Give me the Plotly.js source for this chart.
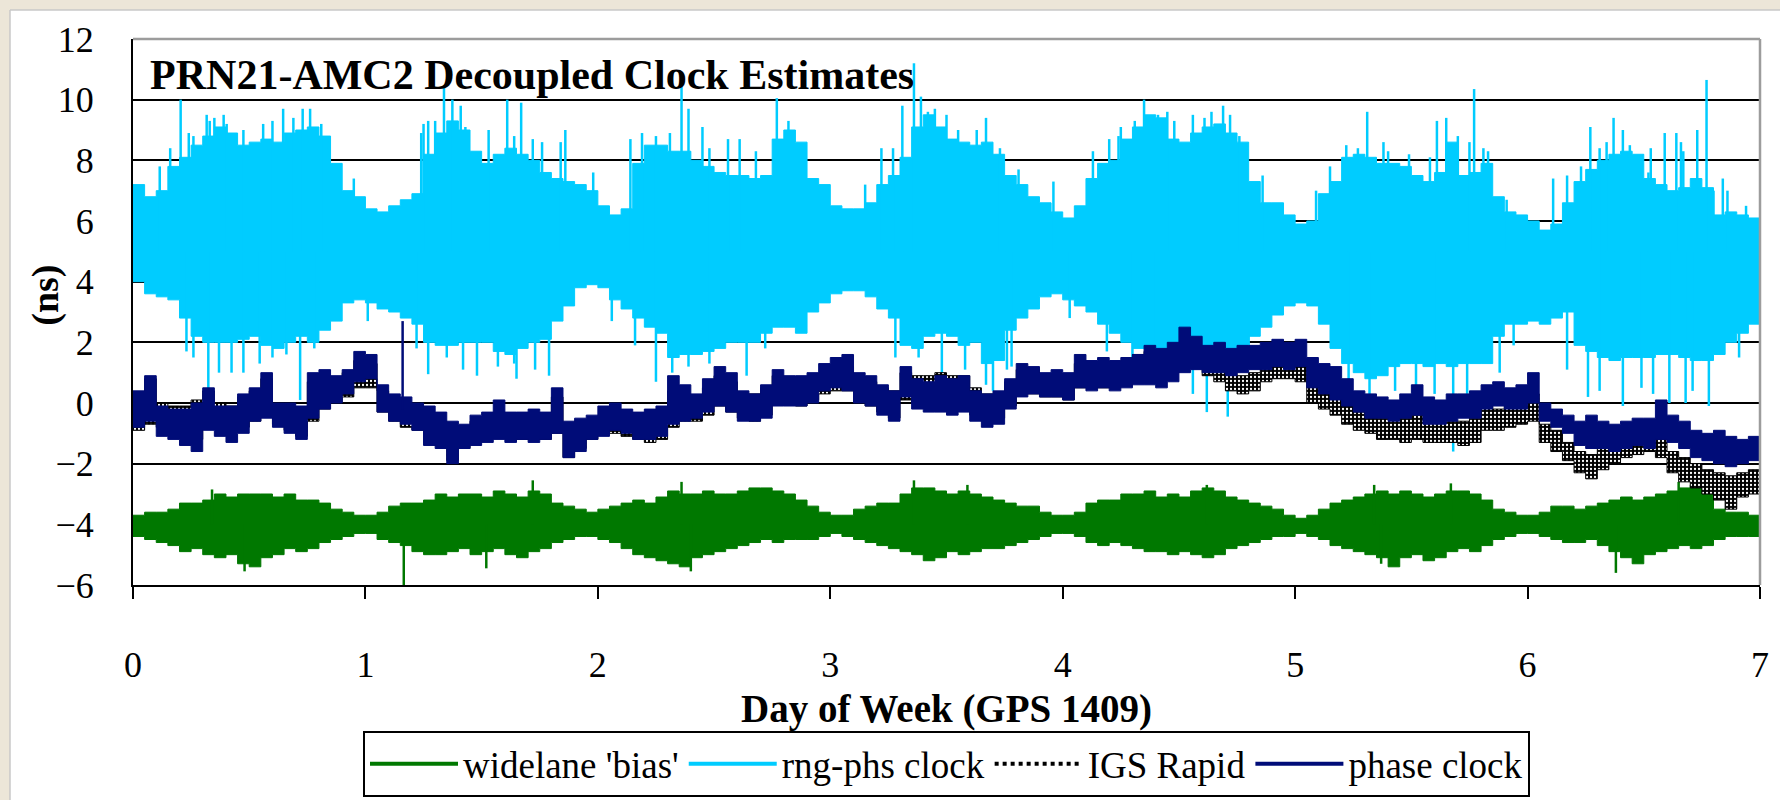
<!DOCTYPE html>
<html>
<head>
<meta charset="utf-8">
<script src="https://cdn.plot.ly/plotly-3.0.1.min.js"></script>
<style>
html,body{margin:0;padding:0;background:#ffffff;}
#chart{width:1780px;height:800px;}
</style>
</head>
<body>
<div id="chart"></div>
<script>
// ---- sample times (day of week), 0.05-day steps ----
const days = [
0,0.05,0.1,0.15,0.2,0.25,0.3,0.35,0.4,0.45,0.5,0.55,0.6,0.65,0.7,0.75,0.8,0.85,0.9,0.95,
1,1.05,1.1,1.15,1.2,1.25,1.3,1.35,1.4,1.45,1.5,1.55,1.6,1.65,1.7,1.75,1.8,1.85,1.9,1.95,
2,2.05,2.1,2.15,2.2,2.25,2.3,2.35,2.4,2.45,2.5,2.55,2.6,2.65,2.7,2.75,2.8,2.85,2.9,2.95,
3,3.05,3.1,3.15,3.2,3.25,3.3,3.35,3.4,3.45,3.5,3.55,3.6,3.65,3.7,3.75,3.8,3.85,3.9,3.95,
4,4.05,4.1,4.15,4.2,4.25,4.3,4.35,4.4,4.45,4.5,4.55,4.6,4.65,4.7,4.75,4.8,4.85,4.9,4.95,
5,5.05,5.1,5.15,5.2,5.25,5.3,5.35,5.4,5.45,5.5,5.55,5.6,5.65,5.7,5.75,5.8,5.85,5.9,5.95,
6,6.05,6.1,6.15,6.2,6.25,6.3,6.35,6.4,6.45,6.5,6.55,6.6,6.65,6.7,6.75,6.8,6.85,6.9,6.95,
7];

// ---- widelane 'bias' (ns): upper / lower envelope of the dense trace ----
const widelaneHi = [
-3.7,-3.6,-3.6,-3.5,-3.3,-3.3,-3.2,-3.0,-3.1,-3.0,-3.0,-3.0,-3.1,-3.0,-3.2,-3.2,-3.3,-3.5,-3.6,-3.7,
-3.7,-3.6,-3.4,-3.3,-3.3,-3.2,-3.0,-3.1,-3.0,-3.0,-3.1,-2.9,-3.0,-3.1,-2.9,-3.0,-3.3,-3.4,-3.5,-3.6,
-3.5,-3.4,-3.3,-3.2,-3.3,-3.1,-2.9,-3.0,-3.0,-2.9,-3.0,-3.0,-2.9,-2.8,-2.8,-2.9,-3.0,-3.2,-3.4,-3.6,
-3.7,-3.7,-3.5,-3.4,-3.3,-3.3,-3.0,-2.8,-2.8,-2.9,-3.0,-2.9,-3.0,-3.1,-3.2,-3.3,-3.4,-3.4,-3.6,-3.7,
-3.7,-3.6,-3.3,-3.2,-3.2,-3.0,-3.0,-2.9,-3.1,-3.0,-3.1,-2.9,-2.8,-2.9,-3.1,-3.2,-3.3,-3.4,-3.5,-3.7,
-3.8,-3.7,-3.5,-3.3,-3.2,-3.1,-3.0,-2.9,-3.0,-2.9,-3.0,-3.1,-3.0,-2.9,-2.9,-3.0,-3.2,-3.5,-3.6,-3.7,
-3.7,-3.6,-3.4,-3.4,-3.5,-3.4,-3.3,-3.2,-3.1,-3.2,-3.1,-3.0,-2.9,-2.8,-2.7,-2.8,-3.5,-3.6,-3.6,-3.7,
-3.6];
const widelaneLo = [
-4.4,-4.5,-4.6,-4.7,-4.9,-4.8,-5.0,-5.1,-5.0,-5.3,-5.4,-5.1,-5.0,-4.8,-4.9,-4.8,-4.6,-4.5,-4.4,-4.3,
-4.3,-4.5,-4.6,-4.7,-4.9,-5.0,-5.0,-4.9,-4.8,-5.0,-4.9,-4.8,-5.0,-5.1,-4.9,-4.8,-4.6,-4.5,-4.4,-4.4,
-4.5,-4.6,-4.8,-5.0,-5.1,-5.2,-5.3,-5.4,-5.1,-5.0,-4.9,-4.8,-4.7,-4.6,-4.5,-4.6,-4.5,-4.5,-4.5,-4.4,
-4.3,-4.4,-4.5,-4.6,-4.7,-4.8,-4.9,-5.0,-5.2,-5.1,-4.9,-5.0,-4.9,-4.8,-4.8,-4.7,-4.6,-4.5,-4.4,-4.3,
-4.3,-4.4,-4.6,-4.7,-4.6,-4.7,-4.8,-4.9,-4.9,-5.0,-4.9,-5.0,-5.1,-5.0,-4.8,-4.7,-4.6,-4.5,-4.4,-4.4,
-4.3,-4.4,-4.5,-4.7,-4.8,-4.9,-5.0,-5.1,-5.4,-5.1,-5.0,-5.2,-5.1,-4.9,-4.8,-4.9,-4.7,-4.5,-4.4,-4.3,
-4.3,-4.4,-4.5,-4.6,-4.6,-4.5,-4.7,-4.9,-5.1,-5.3,-5.0,-4.9,-4.8,-4.7,-4.8,-4.7,-4.5,-4.4,-4.4,-4.4,
-4.3];
const widelaneSpikeDays = [0.34,1.72,2.36,3.36,3.59,4.62,5.34,5.67,6.65,0.48,1.165,1.52,2.40,5.37,6.38];
const widelaneSpikeVals = [-2.85,-2.55,-2.6,-2.55,-2.7,-2.7,-2.7,-2.65,-2.6,-5.55,-6.0,-5.45,-5.55,-5.3,-5.6];
const widelaneSpikeBase = -4.0;

// ---- rng-phs clock (ns) ----
const rngPhsHi = [
7.2,6.8,7.0,7.8,8.1,8.5,8.8,9.1,8.9,8.5,8.6,8.7,8.6,8.9,9.0,9.1,8.8,7.9,7.0,6.8,
6.4,6.3,6.5,6.7,6.9,8.2,8.9,9.3,9.0,8.3,7.9,8.2,8.4,8.2,8.0,7.6,7.4,7.3,7.2,7.0,
6.5,6.2,6.4,7.9,8.5,8.5,8.3,8.3,8.0,7.8,7.6,7.5,7.5,7.4,7.5,8.7,9.0,8.6,7.4,7.2,
6.5,6.4,6.4,6.6,7.2,7.5,8.1,9.1,9.5,9.1,8.7,8.6,8.5,8.6,8.2,7.5,7.2,6.8,6.6,6.3,
6.1,6.5,7.4,7.9,8.0,8.7,9.1,9.5,9.4,8.7,8.6,8.9,9.1,9.2,8.9,8.6,7.3,6.6,6.6,6.2,
5.9,6.0,6.9,7.3,8.1,8.2,8.1,7.9,7.9,7.8,7.5,7.3,7.6,8.6,7.5,7.6,7.9,6.8,6.3,6.2,
6.0,5.7,5.9,6.6,7.3,7.7,8.0,8.2,8.3,8.2,7.4,7.2,7.0,7.1,7.4,7.1,6.2,6.3,6.2,6.1,
5.9];
const rngPhsLo = [
4.0,3.6,3.5,3.4,2.8,2.2,2.0,2.0,2.0,2.1,2.2,1.9,1.8,2.0,2.2,2.0,2.4,2.7,3.3,3.4,
3.3,3.1,3.0,2.8,2.6,2.0,1.9,1.9,2.0,2.0,2.0,1.7,1.6,1.8,2.0,2.1,2.7,3.2,3.8,3.9,
3.8,3.4,3.1,2.8,2.5,2.3,1.5,1.6,1.6,1.7,1.8,2.0,2.0,2.0,2.3,2.5,2.5,2.3,3.0,3.3,
3.6,3.7,3.7,3.5,3.1,2.8,1.9,1.8,2.2,2.3,2.2,1.9,2.0,1.3,1.4,2.4,2.8,3.1,3.5,3.6,
3.4,3.2,3.0,2.6,2.3,2.0,1.8,1.8,1.6,1.5,1.4,1.2,1.2,1.4,1.6,1.9,2.2,2.5,2.9,3.2,
3.3,3.2,2.6,1.8,1.3,1.0,0.8,0.9,1.2,1.3,1.3,1.2,1.3,1.2,1.3,1.3,1.3,2.2,2.6,2.6,
2.7,2.6,2.8,3.0,1.9,1.7,1.5,1.4,1.5,1.5,1.5,1.6,1.6,1.5,1.4,1.4,1.6,2.0,2.3,2.6,
2.8];
// tall isolated spikes (up, then down)
const rngPhsSpikeDays = [
0.205,0.317,0.33,0.403,0.646,0.762,1.25,1.30,1.338,1.374,1.43,1.61,1.67,1.84,1.86,2.14,2.36,2.39,2.45,2.56,
2.77,3.22,3.31,3.36,3.39,3.45,3.63,3.67,4.24,4.35,4.45,4.56,4.61,4.69,4.72,5.31,5.38,5.61,5.70,5.77,
5.83,6.27,6.37,6.41,6.53,6.59,6.64,6.67,6.73,6.77,6.84,
0.324,0.37,0.424,0.475,0.719,1.27,1.48,1.57,1.65,1.79,2.25,2.64,3.48,3.58,3.70,3.78,4.30,4.62,4.71,5.52,
5.68,5.88,6.26,6.31,6.41,6.61,6.68,6.78];
const rngPhsSpikeVals = [
10.0,9.5,9.3,9.2,9.7,9.7,9.2,9.3,10.45,10.0,9.1,10.0,9.9,8.6,9.0,8.7,10.6,9.7,9.1,8.7,
10.05,8.4,9.8,11.2,10.1,9.7,9.0,9.4,8.8,10.0,9.6,9.5,9.4,9.8,9.5,9.6,8.6,9.3,8.8,10.35,
8.3,9.1,9.4,9.0,8.4,8.9,8.9,8.3,9.0,10.65,7.4,
0.0,1.0,1.0,1.0,0.1,0.95,0.9,1.2,0.8,0.9,0.7,0.9,0.9,1.1,0.4,1.2,1.0,-0.3,-0.45,0.3,
-1.6,1.0,0.2,0.4,-0.1,0.0,0.0,-0.1];
// shorter spikes along the band edges (up, then down)
const rngPhsEdgeDays = [
0.115,0.16,0.24,0.26,0.35,0.39,0.475,0.56,0.60,0.69,0.73,0.81,0.83,0.95,1.24,1.27,1.41,1.53,1.64,1.72,
1.76,1.98,2.19,2.25,2.31,2.48,2.61,2.68,2.82,2.89,3.15,3.27,3.42,3.50,3.55,3.73,3.81,3.96,4.13,4.20,
4.25,4.31,4.41,4.48,4.64,4.76,4.86,5.09,5.15,5.22,5.27,5.40,5.49,5.58,5.65,5.75,5.81,5.91,6.11,6.17,
6.23,6.31,6.34,6.44,6.52,6.66,6.80,6.86,6.94,
0.23,0.26,0.545,0.60,0.66,0.78,0.89,1.01,1.22,1.35,1.42,1.64,1.73,2.06,2.16,2.32,2.39,2.48,2.72,3.28,
3.38,3.67,3.76,4.03,4.19,4.40,4.48,4.56,4.80,5.23,5.32,5.43,5.60,5.74,5.94,6.17,6.49,6.54,6.71,6.91];
const rngPhsEdgeVals = [
7.8,8.4,8.9,8.8,9.4,9.5,9.0,9.2,9.3,9.4,9.7,9.2,8.4,7.4,8.9,9.3,9.8,9.0,8.8,8.7,
8.6,7.6,8.9,8.8,8.9,8.4,8.7,8.3,9.3,7.9,7.2,8.4,9.6,9.5,9.0,8.4,7.7,7.3,8.3,8.7,
9.1,9.3,9.5,9.3,9.6,8.8,7.5,7.0,7.8,8.5,8.4,8.3,8.2,8.1,9.4,8.6,8.4,6.7,7.4,7.5,
7.8,8.4,8.6,8.5,7.6,8.6,7.0,7.0,6.5,
1.7,1.5,1.3,1.5,1.6,1.8,2.8,2.7,1.8,1.5,1.1,1.3,1.1,2.7,1.9,1.0,1.2,1.3,1.8,1.5,
1.5,0.6,1.1,2.8,1.7,0.6,0.9,0.3,1.5,0.3,0.0,0.4,0.3,0.3,1.9,1.1,0.5,0.3,0.4,1.5];
const rngPhsSpikeBase = 5.0;

// ---- IGS Rapid (ns) ----
const igsHi = [
0.3,0.8,0.0,-0.1,-0.1,0.1,0.4,0.0,-0.1,0.2,0.4,0.8,0.0,-0.1,-0.2,0.7,0.9,0.8,1.0,1.4,
1.3,0.4,0.1,0.0,-0.2,-0.5,-0.6,-0.8,-0.8,-0.6,-0.5,-0.3,-0.5,-0.5,-0.4,-0.5,0.2,-0.7,-0.6,-0.6,
-0.4,-0.3,-0.4,-0.5,-0.5,-0.3,0.4,0.3,0.1,0.5,0.9,0.7,0.3,0.3,0.5,0.9,0.8,0.7,0.8,1.0,
1.2,1.2,0.8,0.7,0.5,0.4,1.0,0.9,0.9,1.0,0.9,0.9,0.5,0.3,0.3,0.7,1.1,1.1,0.9,0.9,
0.9,1.3,1.3,1.3,1.3,1.4,1.6,1.7,1.6,1.8,2.0,1.9,1.5,1.4,1.0,0.9,1.0,1.3,1.4,1.4,
1.3,0.7,0.5,0.3,-0.1,-0.3,-0.4,-0.5,-0.5,-0.5,-0.4,-0.6,-0.6,-0.6,-0.6,-0.5,-0.1,-0.2,0.0,0.1,
0.3,-0.7,-0.9,-1.3,-1.6,-1.7,-1.4,-1.2,-1.1,-1.0,-0.9,-1.1,-1.6,-1.8,-2.0,-2.2,-2.3,-2.4,-2.3,-2.2,
-2.3];
const igsLo = [
-0.9,-0.7,-0.8,-0.9,-1.0,-1.2,-0.6,-0.6,-0.8,-0.8,-0.6,-0.4,-0.7,-0.9,-1.1,-0.6,-0.2,0.0,0.2,0.5,
0.5,-0.3,-0.6,-0.8,-0.9,-1.3,-1.4,-1.9,-1.5,-1.3,-1.2,-1.1,-1.2,-1.2,-1.2,-1.2,-1.0,-1.8,-1.5,-1.2,
-1.0,-1.0,-1.1,-1.2,-1.3,-1.2,-0.8,-0.6,-0.6,-0.4,-0.1,-0.3,-0.5,-0.6,-0.4,0.0,0.0,-0.1,0.1,0.3,
0.4,0.4,0.0,-0.1,-0.3,-0.5,0.1,0.0,0.0,0.0,-0.1,0.0,-0.4,-0.6,-0.5,-0.1,0.3,0.3,0.2,0.2,
0.1,0.5,0.5,0.5,0.5,0.6,0.8,0.9,0.8,1.0,1.2,1.2,0.9,0.7,0.4,0.3,0.4,0.7,0.8,0.8,
0.7,0.0,-0.2,-0.4,-0.7,-0.9,-1.0,-1.2,-1.2,-1.3,-1.2,-1.3,-1.3,-1.3,-1.4,-1.3,-0.9,-0.9,-0.8,-0.7,
-0.6,-1.3,-1.6,-1.9,-2.3,-2.5,-2.2,-2.0,-1.8,-1.7,-1.6,-1.8,-2.3,-2.6,-2.8,-3.0,-3.2,-3.5,-3.1,-3.0,
-3.0];

// ---- phase clock (ns) ----
const phaseHi = [
0.4,0.9,-0.1,-0.2,-0.2,0.0,0.5,-0.1,-0.1,0.3,0.5,1.0,0.0,0.0,-0.1,1.0,1.1,0.9,1.1,1.7,
1.6,0.6,0.3,0.2,0.0,-0.1,-0.3,-0.6,-0.7,-0.4,-0.3,0.1,-0.3,-0.3,-0.2,-0.3,0.5,-0.6,-0.5,-0.4,
-0.1,0.0,-0.2,-0.3,-0.2,-0.1,0.9,0.6,0.3,0.8,1.2,1.0,0.4,0.3,0.6,1.1,0.9,0.9,1.0,1.3,
1.5,1.6,1.0,0.9,0.6,0.4,1.2,0.8,0.7,0.9,0.8,0.9,0.4,0.3,0.4,0.8,1.3,1.2,1.0,1.1,
1.0,1.6,1.4,1.5,1.4,1.5,1.6,1.9,1.8,2.0,2.5,2.2,1.9,2.0,1.8,1.9,1.9,2.0,2.1,2.0,
2.1,1.5,1.3,1.2,0.8,0.4,0.3,0.2,0.1,0.3,0.6,0.2,0.1,0.3,0.3,0.4,0.6,0.7,0.5,0.6,
1.0,0.0,-0.2,-0.4,-0.6,-0.4,-0.6,-0.7,-0.6,-0.5,-0.5,0.1,-0.4,-0.6,-0.9,-1.0,-0.9,-1.1,-1.2,-1.1,
-1.3];
const phaseLo = [
-0.8,-0.6,-1.1,-1.2,-1.4,-1.6,-0.9,-1.1,-1.3,-1.0,-0.6,-0.5,-0.8,-1.0,-1.2,-0.5,-0.2,0.0,0.3,0.7,
0.8,-0.3,-0.6,-0.7,-0.9,-1.4,-1.5,-2.0,-1.5,-1.4,-1.3,-1.2,-1.3,-1.2,-1.3,-1.2,-1.0,-1.8,-1.6,-1.2,
-1.1,-0.9,-1.0,-1.2,-1.2,-1.1,-0.7,-0.6,-0.5,-0.3,-0.1,-0.3,-0.6,-0.6,-0.5,-0.1,-0.1,-0.1,0.0,0.4,
0.5,0.4,0.0,-0.1,-0.4,-0.6,0.2,-0.2,-0.3,-0.3,-0.4,-0.3,-0.6,-0.8,-0.7,-0.2,0.2,0.3,0.2,0.2,
0.1,0.5,0.4,0.5,0.4,0.5,0.6,0.6,0.5,0.7,1.0,1.1,1.0,1.0,0.9,1.0,1.1,1.1,1.2,1.1,
1.2,0.5,0.3,0.1,-0.1,-0.3,-0.5,-0.5,-0.6,-0.5,-0.4,-0.7,-0.7,-0.6,-0.5,-0.5,-0.2,-0.1,-0.2,-0.2,
0.0,-0.6,-0.8,-1.0,-1.4,-1.5,-1.5,-1.6,-1.5,-1.4,-1.5,-1.2,-1.3,-1.5,-1.8,-1.9,-2.0,-2.1,-2.0,-1.9,
-2.1];
const phaseSpikeDays = [1.16];
const phaseSpikeVals = [2.7];
const phaseSpikeBase = -0.2;

// ---- labels ----
const seriesNames = ["widelane 'bias'", "rng-phs clock", "IGS Rapid", "phase clock"];
const xTickVals = [0,1,2,3,4,5,6,7];
const yTickVals = [-6,-4,-2,0,2,4,6,8,10,12];

// ---- styles ----
const GREEN = '#007800', CYAN = '#00ccff', NAVY = '#000c78', BLACK = '#000000';
const SERIF = 'Liberation Serif, Times New Roman, serif';

function spikes(ds, vs, base) {
  const x = [], y = [];
  for (let i = 0; i < ds.length; i++) { x.push(ds[i], ds[i], null); y.push(base, vs[i], null); }
  return {x, y};
}
function band(lo, hi, color, extra) {
  const a = {x: days, y: lo, type: 'scatter', mode: 'lines', line: {color: color, width: 1, shape: 'hv'},
             showlegend: false, hoverinfo: 'skip'};
  const b = Object.assign({x: days, y: hi, type: 'scatter', mode: 'lines', line: {color: color, width: 1, shape: 'hv'},
             fill: 'tonexty', fillcolor: color, showlegend: false, hoverinfo: 'skip'}, extra || {});
  return [a, b];
}

const wS = spikes(widelaneSpikeDays, widelaneSpikeVals, widelaneSpikeBase);
const cS = spikes(rngPhsSpikeDays.concat(rngPhsEdgeDays), rngPhsSpikeVals.concat(rngPhsEdgeVals), rngPhsSpikeBase);
const pS = spikes(phaseSpikeDays, phaseSpikeVals, phaseSpikeBase);

const traces = [].concat(
  band(widelaneLo, widelaneHi, GREEN),
  [{x: wS.x, y: wS.y, type: 'scatter', mode: 'lines', line: {color: GREEN, width: 2.5}, showlegend: false, hoverinfo: 'skip'}],
  band(rngPhsLo, rngPhsHi, CYAN),
  [{x: cS.x, y: cS.y, type: 'scatter', mode: 'lines', line: {color: CYAN, width: 2.5}, showlegend: false, hoverinfo: 'skip'}],
  band(igsLo, igsHi, BLACK, {fillpattern: {shape: '.', bgcolor: '#000000', fgcolor: '#ffffff', size: 4, solidity: 0.25}}),
  band(phaseLo, phaseHi, NAVY),
  [{x: pS.x, y: pS.y, type: 'scatter', mode: 'lines', line: {color: NAVY, width: 2.5}, showlegend: false, hoverinfo: 'skip'}],
  [
    {x: [null], y: [null], type: 'scatter', mode: 'lines', name: seriesNames[0], line: {color: GREEN, width: 4}},
    {x: [null], y: [null], type: 'scatter', mode: 'lines', name: seriesNames[1], line: {color: CYAN, width: 4}},
    {x: [null], y: [null], type: 'scatter', mode: 'lines', name: seriesNames[2], line: {color: BLACK, width: 4, dash: 'dot'}},
    {x: [null], y: [null], type: 'scatter', mode: 'lines', name: seriesNames[3], line: {color: NAVY, width: 4}}
  ]
);

const layout = {
  width: 1780, height: 800,
  margin: {l: 133, r: 20, t: 39, b: 215, pad: 0, autoexpand: false},
  paper_bgcolor: '#ffffff', plot_bgcolor: '#ffffff',
  font: {family: SERIF, color: '#000', size: 36},
  title: {text: '<b>PRN21-AMC2 Decoupled Clock Estimates</b>', font: {family: SERIF, size: 42, color: '#000'},
          xref: 'paper', x: 0.0105, xanchor: 'left', yref: 'paper', y: 0.936, yanchor: 'middle'},
  xaxis: {range: [0, 7], tickvals: xTickVals, ticks: 'outside', ticklen: 12, tickwidth: 2, tickcolor: '#000',
          showline: true, linecolor: '#000', linewidth: 2, showgrid: false, zeroline: false, automargin: false,
          tickfont: {family: SERIF, size: 36, color: '#000'}, ticklabelstandoff: 35,
          title: {text: '<b>Day of Week (GPS 1409)</b>', font: {family: SERIF, size: 39, color: '#000'}, standoff: 25}},
  yaxis: {range: [-6, 12], tickvals: yTickVals, ticks: '', showline: true, linecolor: '#000', linewidth: 2,
          showgrid: true, gridcolor: '#000', gridwidth: 2, zeroline: false, automargin: false,
          tickfont: {family: SERIF, size: 36, color: '#000'}, ticklabelstandoff: 30},
  annotations: [
    {text: '<b>(ns)</b>', xref: 'paper', yref: 'paper', x: -0.054, y: 0.53, xanchor: 'center', yanchor: 'middle',
     textangle: -90, showarrow: false, font: {family: SERIF, size: 38, color: '#000'}}
  ],
  legend: {orientation: 'h', traceorder: 'normal', xref: 'paper', x: 0.5, xanchor: 'center',
           yref: 'container', y: 0.086, yanchor: 'top',
           bordercolor: '#000', borderwidth: 2, bgcolor: '#fff', itemwidth: 88,
           font: {family: SERIF, size: 37, color: '#000'}},
  shapes: [
    {type: 'rect', xref: 'paper', yref: 'paper', x0: -0.0818, x1: 1.0123, y0: 1.0531, y1: 1.0714,
     fillcolor: '#ece6d8', line: {width: 0}, layer: 'below'},
    {type: 'rect', xref: 'paper', yref: 'paper', x0: -0.0818, x1: -0.0756, y0: -0.394, y1: 1.0714,
     fillcolor: '#ece6d8', line: {width: 0}, layer: 'below'},
    {type: 'line', xref: 'paper', yref: 'paper', x0: -0.0756, x1: 1.0123, y0: 1.0531, y1: 1.0531,
     line: {color: '#c8c8c8', width: 1.5}, layer: 'below'},
    {type: 'line', xref: 'paper', yref: 'paper', x0: -0.0756, x1: -0.0756, y0: -0.394, y1: 1.0531,
     line: {color: '#c8c8c8', width: 1.5}, layer: 'below'},
    {type: 'line', xref: 'paper', yref: 'paper', x0: 0, x1: 1, y0: 1, y1: 1, line: {color: '#9c9c9c', width: 2.5}, layer: 'above'},
    {type: 'line', xref: 'paper', yref: 'paper', x0: 1, x1: 1, y0: 0, y1: 1, line: {color: '#9c9c9c', width: 2.5}, layer: 'above'}
  ]
};

Plotly.newPlot('chart', traces, layout, {displayModeBar: false, staticPlot: true});
</script>
</body>
</html>
